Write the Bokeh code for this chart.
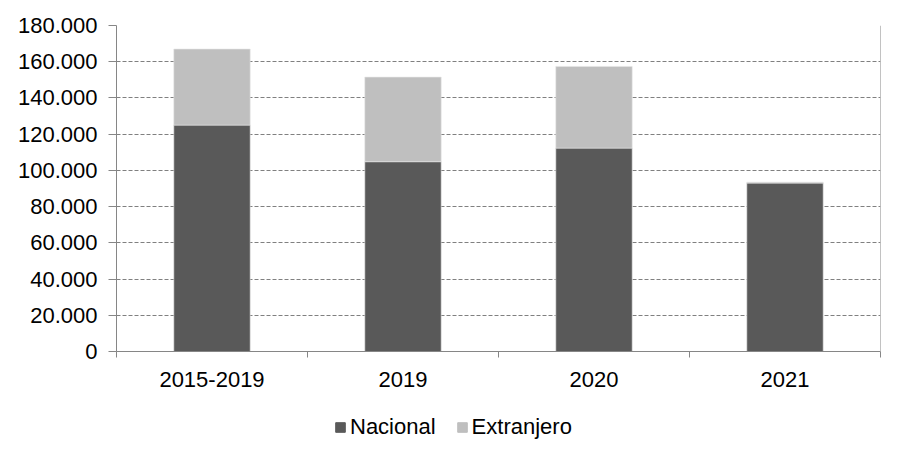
from bokeh.plotting import figure
from bokeh.layouts import column
from bokeh.models import (ColumnDataSource, FixedTicker, Legend, LegendItem,
                          Range1d, Span)
from bokeh.embed import file_html
from bokeh.resources import INLINE

categories = ["2015-2019", "2019", "2020", "2021"]
nacional = [125000, 104800, 112300, 93000]
extranjero = [42000, 46700, 45100, 500]
series = ["Nacional", "Extranjero"]
colors = ["#595959", "#BFBFBF"]
y_ticks = [0, 20000, 40000, 60000, 80000, 100000, 120000, 140000, 160000, 180000]
y_tick_labels = ["0", "20.000", "40.000", "60.000", "80.000", "100.000",
                 "120.000", "140.000", "160.000", "180.000"]

x_pos = [i + 0.5 for i in range(len(categories))]
source = ColumnDataSource(dict(x=x_pos, Nacional=nacional, Extranjero=extranjero))

FONT = "Liberation Sans"
W = 888

p = figure(width=W, height=400, output_backend="svg", toolbar_location=None,
           x_range=Range1d(0, len(categories)), y_range=Range1d(0, 180000),
           min_border_left=116, min_border_right=8, min_border_top=25,
           min_border_bottom=49)
p.outline_line_color = None
p.background_fill_color = "white"
p.border_fill_color = "white"

r = p.vbar_stack(series, x="x", width=0.4, source=source, color=colors,
                 line_color="#E6E6E6", line_width=1, line_alpha=0.6)

# axes
xa = p.xaxis[0]
xa.ticker = FixedTicker(ticks=x_pos, minor_ticks=list(range(len(categories) + 1)))
xa.major_label_overrides = {x: c for x, c in zip(x_pos, categories)}
xa.major_tick_line_color = None
xa.major_tick_out = 0
xa.major_tick_in = 0
xa.minor_tick_out = 6
xa.minor_tick_in = 0
xa.minor_tick_line_color = "#868686"
xa.axis_line_color = "#868686"
xa.major_label_text_font = FONT
xa.major_label_text_font_size = "22px"
xa.major_label_text_color = "black"
xa.major_label_standoff = 14

ya = p.yaxis[0]
ya.ticker = FixedTicker(ticks=y_ticks)
ya.major_label_overrides = {t: l for t, l in zip(y_ticks, y_tick_labels)}
ya.minor_tick_line_color = None
ya.major_tick_out = 8
ya.major_tick_in = 0
ya.major_tick_line_color = "#868686"
ya.axis_line_color = "#868686"
ya.major_label_text_font = FONT
ya.major_label_text_font_size = "22px"
ya.major_label_text_color = "black"
ya.major_label_standoff = 11

p.add_layout(Span(location=len(categories), dimension="height",
                  line_color="#868686", line_width=1))

p.xgrid.grid_line_color = None
p.ygrid.grid_line_color = "#808080"
p.ygrid.grid_line_dash = "4 2"
p.ygrid.grid_line_width = 1

# legend strip below the chart (swatch renderers sit outside the visible range)
lf = figure(width=W, height=50, output_backend="svg", toolbar_location=None,
            x_range=Range1d(0, 1), y_range=Range1d(0, 1),
            x_axis_type=None, y_axis_type=None,
            min_border_left=0, min_border_right=0, min_border_top=0,
            min_border_bottom=0)
lf.outline_line_color = None
lf.xgrid.visible = False
lf.ygrid.visible = False
dummies = [lf.vbar(x=[-10], top=[0], width=0.1, color=c) for c in colors]

legend = Legend(items=[LegendItem(label=s, renderers=[rr]) for s, rr in zip(series, dummies)],
                orientation="horizontal", location=(218, 10),
                label_text_font=FONT, label_text_font_size="22px",
                label_text_color="black", glyph_width=12, glyph_height=12,
                label_standoff=4, spacing=20, border_line_color=None,
                background_fill_alpha=0, margin=0, padding=0)
lf.add_layout(legend, "center")

layout = column(p, lf, spacing=0)
open("out.html", "w").write(file_html(layout, INLINE))
